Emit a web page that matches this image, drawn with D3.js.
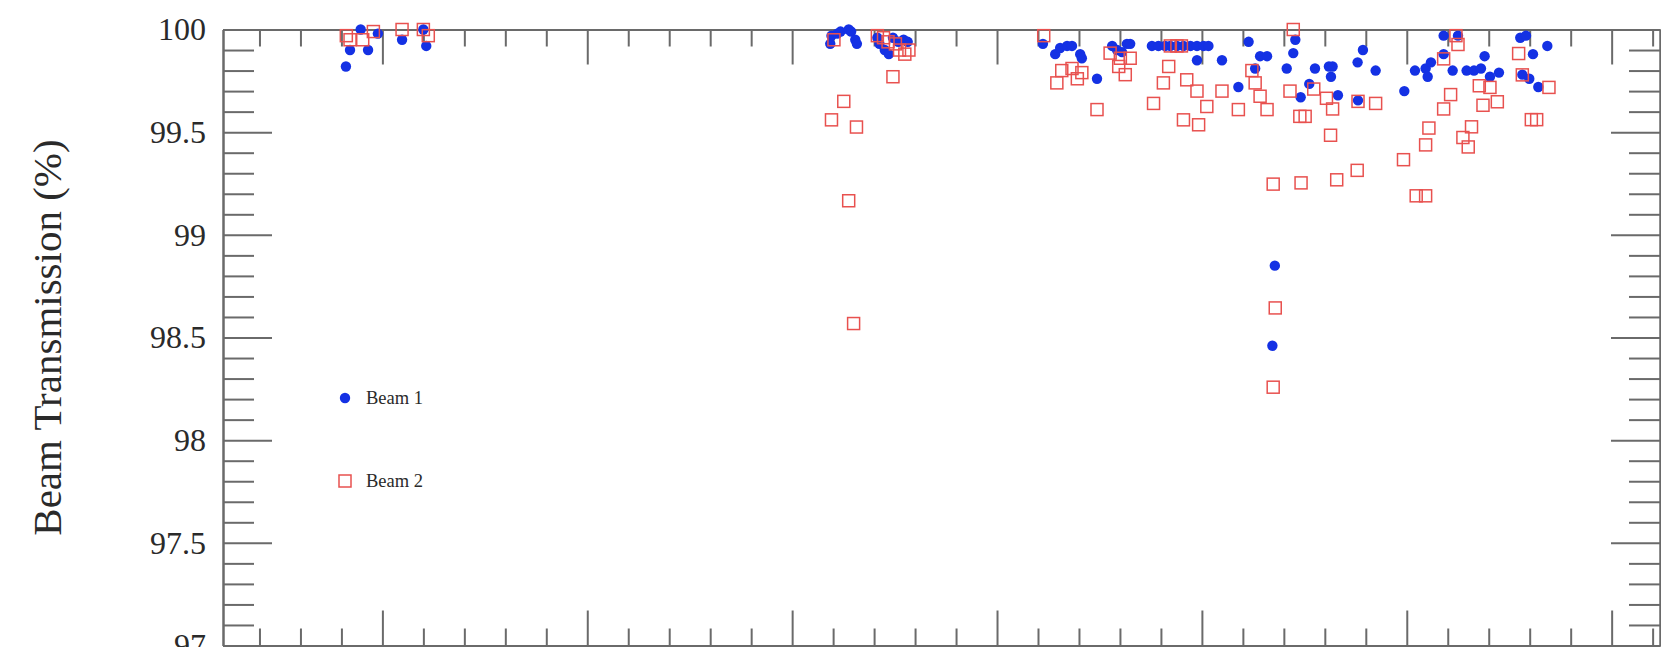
<!DOCTYPE html>
<html>
<head>
<meta charset="utf-8">
<script src="https://cdn.jsdelivr.net/npm/d3@7"></script>
<style>
  html, body { margin: 0; padding: 0; background: #fff; }
  svg { display: block; }
</style>
</head>
<body>
<svg id="chart" width="1661" height="647"></svg>
<script>
// Beam 1 transmission measurements: [day, transmission %]
const beam1 = [
  [41.1, 99.82], [42.1, 99.90], [44.7, 100.0], [46.5, 99.90], [48.9, 99.98],
  [54.8, 99.95], [60.0, 100.0], [60.7, 99.92],
  [159.3, 99.93], [159.6, 99.97], [161.0, 99.98], [161.8, 99.99], [163.8, 100.0],
  [164.4, 99.99], [165.4, 99.95], [165.8, 99.93],
  [170.8, 99.96], [171.3, 99.93], [172.6, 99.90], [173.6, 99.88], [174.6, 99.96],
  [175.9, 99.94], [177.2, 99.95], [178.2, 99.94],
  [211.2, 99.93], [214.2, 99.88], [215.4, 99.91], [217.1, 99.92], [218.3, 99.92],
  [220.3, 99.88], [220.7, 99.86], [224.4, 99.76], [228.1, 99.92], [229.3, 99.90],
  [230.5, 99.89], [231.7, 99.93], [232.5, 99.93],
  [237.8, 99.92], [239.4, 99.92], [241.0, 99.92], [242.3, 99.92], [243.9, 99.92],
  [245.5, 99.92], [247.2, 99.92], [248.8, 99.92], [250.4, 99.92], [251.6, 99.92],
  [248.8, 99.85], [254.9, 99.85], [258.9, 99.72], [261.4, 99.94], [263.0, 99.81],
  [264.2, 99.87], [265.9, 99.87], [267.8, 98.85], [267.2, 98.46], [270.7, 99.81],
  [272.8, 99.95], [272.3, 99.885], [274.1, 99.67], [276.2, 99.735], [277.6, 99.81],
  [281.0, 99.82], [281.9, 99.82], [281.5, 99.77], [283.2, 99.68], [288.0, 99.84],
  [288.1, 99.655], [289.3, 99.90], [292.4, 99.80], [299.4, 99.70], [302.0, 99.80],
  [304.6, 99.81], [305.1, 99.77], [305.9, 99.84], [309.0, 99.97], [312.5, 99.97],
  [309.0, 99.88], [311.2, 99.80], [314.6, 99.80], [316.4, 99.80], [318.1, 99.81],
  [319.0, 99.87], [320.3, 99.77], [322.5, 99.79], [327.7, 99.96], [329.1, 99.97],
  [330.8, 99.88], [334.3, 99.92], [328.2, 99.78], [329.9, 99.76], [332.1, 99.72]
];

// Beam 2 transmission measurements: [day, transmission %]
const beam2 = [
  [41.2, 99.97], [42.1, 99.95], [45.2, 99.95], [47.8, 99.99], [54.8, 100.0],
  [60.0, 100.0], [61.2, 99.97],
  [159.6, 99.56], [160.2, 99.95], [162.6, 99.65], [163.8, 99.166], [165.0, 98.568],
  [165.7, 99.525],
  [170.8, 99.97], [172.3, 99.96], [173.4, 99.94], [175.2, 99.93], [176.2, 99.90],
  [177.5, 99.88], [178.5, 99.90], [174.6, 99.77],
  [211.4, 99.97], [214.6, 99.74], [215.8, 99.80], [218.3, 99.81], [220.7, 99.79],
  [219.6, 99.76], [224.4, 99.61], [227.6, 99.885], [230.1, 99.86], [232.5, 99.86],
  [229.7, 99.82], [231.3, 99.78], [240.6, 99.74], [238.2, 99.64], [241.9, 99.82],
  [242.3, 99.92], [243.9, 99.92], [245.0, 99.92], [246.3, 99.755], [248.8, 99.70],
  [251.2, 99.625], [245.5, 99.56], [249.2, 99.536], [254.9, 99.70], [258.9, 99.61],
  [262.2, 99.80], [263.0, 99.74], [264.2, 99.675], [265.9, 99.61], [267.4, 99.247],
  [267.9, 98.644], [267.4, 98.258], [271.5, 99.70], [272.3, 100.0], [273.9, 99.577],
  [275.2, 99.577], [274.2, 99.253], [277.3, 99.71], [280.4, 99.665], [281.4, 99.485],
  [281.9, 99.613], [282.9, 99.268], [288.1, 99.65], [287.9, 99.314], [292.4, 99.64],
  [299.2, 99.366], [302.3, 99.19], [304.6, 99.19], [304.6, 99.438], [305.4, 99.52],
  [309.0, 99.857], [310.7, 99.683], [309.0, 99.613], [312.0, 99.97], [312.5, 99.927],
  [317.7, 99.726], [320.3, 99.718], [318.6, 99.631], [322.1, 99.648], [313.7, 99.474],
  [315.0, 99.428], [315.8, 99.526], [327.3, 99.883], [328.2, 99.779], [334.7, 99.718],
  [330.4, 99.561], [331.7, 99.561]
];

// Axis ranges and tick labels
const xDomain = [11.1, 361.8];
const yDomain = [97, 100];
const yTickLabels = ["97", "97.5", "98", "98.5", "99", "99.5", "100"];
const seriesNames = ["Beam 1", "Beam 2"];

const frame = { left: 223, right: 1660, top: 29.5, bottom: 645.5 };
const axisColor = "#6a6a6a";
const textColor = "#2a2a2a";
const blue = "#1431e4";
const red = "#e8514f";

const svg = d3.select("#chart");

const x = d3.scaleLinear().domain(xDomain).range([frame.left, frame.right]);
const y = d3.scaleLinear().domain(yDomain).range([frame.bottom, frame.top]);

// tick positions: minor every 10 days, major every 50; minor every 0.1 %, major every 0.5 %
const xMinor = d3.range(20, 361, 10).filter(v => v % 50 !== 0);
const xMajor = d3.range(50, 361, 50);
const yMajor = yTickLabels.map(Number);
const yMinor = d3.range(971, 1000, 1).map(v => v / 10).filter(v => Math.round(v * 10) % 5 !== 0);

function styleAxis(g) {
  g.select(".domain").attr("stroke", axisColor).attr("stroke-width", 2);
  g.selectAll(".tick line").attr("stroke", axisColor).attr("stroke-width", 2);
  g.selectAll(".tick text")
    .attr("fill", textColor)
    .style("font-family", "'Liberation Serif', 'Times New Roman', serif")
    .style("font-size", "32px");
}

const minorX = 17, majorX = 35, minorY = 31, majorY = 49;

// bottom and top x axes, ticks pointing into the frame
[[d3.axisBottom, frame.bottom], [d3.axisTop, frame.top]].forEach(([ax, pos]) => {
  svg.append("g").attr("transform", `translate(0,${pos})`)
    .call(ax(x).tickValues(xMinor).tickSize(-minorX).tickSizeOuter(0).tickFormat(""))
    .call(styleAxis);
  svg.append("g").attr("transform", `translate(0,${pos})`)
    .call(ax(x).tickValues(xMajor).tickSize(-majorX).tickSizeOuter(0).tickFormat(""))
    .call(styleAxis);
});

// left y axis with labels
svg.append("g").attr("transform", `translate(${frame.left},0)`)
  .call(d3.axisLeft(y).tickValues(yMinor).tickSize(-minorY).tickSizeOuter(0).tickFormat(""))
  .call(styleAxis);
svg.append("g").attr("transform", `translate(${frame.left},0)`)
  .call(d3.axisLeft(y).tickValues(yMajor).tickSize(-majorY).tickSizeOuter(0).tickPadding(17)
    .tickFormat((d, i) => yTickLabels[i]))
  .call(styleAxis);

// right y axis, ticks only
svg.append("g").attr("transform", `translate(${frame.right},0)`)
  .call(d3.axisRight(y).tickValues(yMinor).tickSize(-minorY).tickSizeOuter(0).tickFormat(""))
  .call(styleAxis);
svg.append("g").attr("transform", `translate(${frame.right},0)`)
  .call(d3.axisRight(y).tickValues(yMajor).tickSize(-majorY).tickSizeOuter(0).tickFormat(""))
  .call(styleAxis);

// y axis title
svg.append("text")
  .attr("transform", `translate(61,${(frame.top + frame.bottom) / 2}) rotate(-90)`)
  .attr("text-anchor", "middle")
  .attr("fill", textColor)
  .style("font-family", "'Liberation Serif', 'Times New Roman', serif")
  .style("font-size", "41px")
  .text("Beam Transmission (%)");

// data markers
const r = 5.2, sq = 12;
svg.append("g").selectAll("circle").data(beam1).join("circle")
  .attr("cx", d => x(d[0])).attr("cy", d => y(d[1])).attr("r", r)
  .attr("fill", blue);

svg.append("g").selectAll("rect").data(beam2).join("rect")
  .attr("x", d => x(d[0]) - sq / 2).attr("y", d => y(d[1]) - sq / 2)
  .attr("width", sq).attr("height", sq)
  .attr("fill", "none").attr("stroke", red).attr("stroke-width", 1.5);

// legend
const legend = svg.append("g").attr("transform", "translate(345,398)");
legend.append("circle").attr("cx", 0).attr("cy", 0).attr("r", r).attr("fill", blue);
legend.append("rect").attr("x", -sq / 2).attr("y", 83 - sq / 2).attr("width", sq).attr("height", sq)
  .attr("fill", "none").attr("stroke", red).attr("stroke-width", 1.5);
legend.selectAll("text").data(seriesNames).join("text")
  .attr("x", 21).attr("y", (d, i) => i * 83)
  .attr("dy", "0.35em")
  .attr("fill", textColor)
  .style("font-family", "'Liberation Serif', 'Times New Roman', serif")
  .style("font-size", "18.5px")
  .text(d => d);
</script>
</body>
</html>
